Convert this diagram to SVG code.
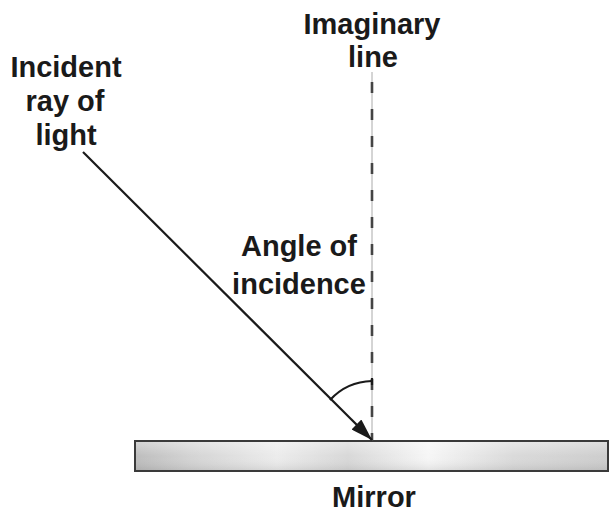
<svg xmlns="http://www.w3.org/2000/svg" width="610" height="512" viewBox="0 0 610 512">
<style>
.lbl{font-family:"Liberation Sans",Arial,Helvetica,sans-serif;font-weight:bold;font-size:29px;fill:#1a1a1a;text-anchor:middle}
.ray{stroke:#1a1a1a;stroke-width:2.2;fill:none}
.guide{stroke:#aaa;stroke-width:1;fill:none}
.dash{stroke:#444;stroke-width:2.6;stroke-dasharray:11 16;fill:none}
</style>
<defs>
<linearGradient id="mg" x1="0" y1="0" x2="1" y2="0">
<stop offset="0" stop-color="#bdbdbd"/>
<stop offset="0.12" stop-color="#d4d4d4"/>
<stop offset="0.3" stop-color="#ececec"/>
<stop offset="0.45" stop-color="#d8d8d8"/>
<stop offset="0.62" stop-color="#f6f6f6"/>
<stop offset="0.8" stop-color="#dadada"/>
<stop offset="1" stop-color="#cdcdcd"/>
</linearGradient>
<linearGradient id="mv" x1="0" y1="0" x2="0" y2="1">
<stop offset="0" stop-color="#fff" stop-opacity="0.35"/>
<stop offset="0.5" stop-color="#fff" stop-opacity="0"/>
<stop offset="1" stop-color="#000" stop-opacity="0.08"/>
</linearGradient>
<marker id="ah" viewBox="0 0 22 14" refX="22" refY="7" markerWidth="22" markerHeight="14" markerUnits="userSpaceOnUse" orient="auto">
<path d="M0,0 L22,7 L0,14 Z" fill="#1a1a1a"/>
</marker>
</defs>
<rect width="610" height="512" fill="#fff"/>
<g id="mirror">
<rect x="135" y="441" width="473" height="30" fill="url(#mg)" stroke="#3a3a3a" stroke-width="2"/>
<rect x="136" y="442" width="471" height="28" fill="url(#mv)"/>
<text class="lbl" x="374" y="507">Mirror</text>
</g>
<g id="imaginary-line">
<text class="lbl" x="372" y="34">Imaginary</text>
<text class="lbl" x="373" y="67">line</text>
</g>
<g id="incident-ray">
<text class="lbl" x="66" y="77">Incident</text>
<text class="lbl" x="65" y="111">ray of</text>
<text class="lbl" x="66" y="145">light</text>
</g>
<g id="angle-of-incidence">
<text class="lbl" x="299" y="256">Angle of</text>
<text class="lbl" x="299" y="294">incidence</text>
</g>
<g id="connectors">
<line class="guide" x1="372" y1="72" x2="372" y2="441"/>
<line class="dash" x1="372" y1="82" x2="372" y2="441"/>
<path class="ray" d="M330,400 A59,59 0 0 1 372,381"/>
<line class="ray" x1="372" y1="378" x2="372" y2="385" stroke-width="2.6"/>
<line class="ray" x1="83" y1="152" x2="372" y2="440" marker-end="url(#ah)"/>
</g>
</svg>
